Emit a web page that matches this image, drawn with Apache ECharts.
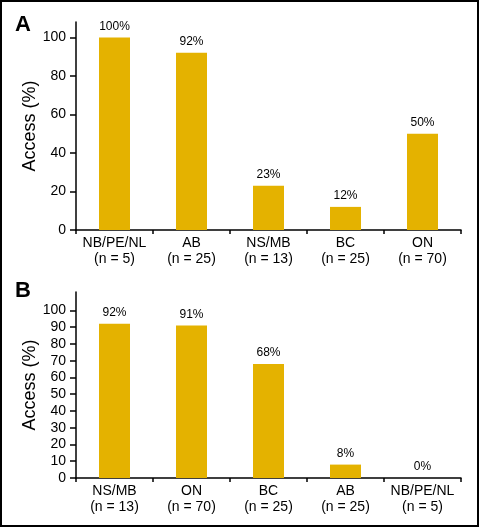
<!DOCTYPE html>
<html>
<head>
<meta charset="utf-8">
<script src="https://cdn.jsdelivr.net/npm/echarts@6/dist/echarts.min.js"></script>
<style>html,body{margin:0;padding:0;background:#fff}#c{width:480px;height:528px}</style>
</head>
<body>
<div id="c"></div>
<script>
// Panel A
const namesA = ['NB/PE/NL', 'AB', 'NS/MB', 'BC', 'ON'];
const nA = [5, 25, 13, 25, 70];
const valsA = [100, 92, 23, 12, 50];
const ticksA = [0, 20, 40, 60, 80, 100];
// Panel B
const namesB = ['NS/MB', 'ON', 'BC', 'AB', 'NB/PE/NL'];
const nB = [13, 70, 25, 25, 5];
const valsB = [92, 91, 68, 8, 0];
const ticksB = [0, 10, 20, 30, 40, 50, 60, 70, 80, 90, 100];

const FONT = '"Liberation Sans", Arial, Helvetica, sans-serif';
const BAR = '#E4B200';
const catsA = namesA.map((s, i) => s + '\n(n = ' + nA[i] + ')');
const catsB = namesB.map((s, i) => s + '\n(n = ' + nB[i] + ')');

function xAxis(idx, cats) {
  return {
    type: 'category', gridIndex: idx, data: cats,
    axisLine: { lineStyle: { color: '#000', width: 1.5 } },
    axisTick: { show: true, length: 4, lineStyle: { color: '#000', width: 1.5 } },
    axisLabel: { color: '#000', fontFamily: FONT, fontSize: 14, lineHeight: 16, margin: 5, interval: 0 }
  };
}
function yAxis(idx, max, ticks) {
  return {
    type: 'value', gridIndex: idx, min: 0, max: max,
    name: 'Access (%)', nameLocation: 'middle', nameGap: 37, nameMoveOverlap: false,
    nameTextStyle: { color: '#000', fontFamily: FONT, fontSize: 18 },
    splitLine: { show: false },
    axisLine: { show: true, lineStyle: { color: '#000', width: 1.5 } },
    axisTick: { show: true, length: 6, customValues: ticks, lineStyle: { color: '#000', width: 1.5 } },
    axisLabel: { color: '#000', fontFamily: FONT, fontSize: 14, margin: 10, customValues: ticks }
  };
}
function bars(idx, vals) {
  return {
    type: 'bar', xAxisIndex: idx, yAxisIndex: idx, data: vals, barWidth: 31,
    itemStyle: { color: BAR },
    label: { show: true, position: 'top', distance: 5, formatter: '{c}%', color: '#000', fontFamily: FONT, fontSize: 12 },
    animation: false
  };
}

const chart = echarts.init(document.getElementById('c'), null, { renderer: 'canvas' });
chart.setOption({
  animation: false,
  backgroundColor: '#fff',
  grid: [
    { left: 76, right: 19, top: 22, bottom: 298 },
    { left: 76, right: 19, top: 292, bottom: 50 }
  ],
  xAxis: [xAxis(0, catsA), xAxis(1, catsB)],
  yAxis: [yAxis(0, 108, ticksA), yAxis(1, 111, ticksB)],
  series: [bars(0, valsA), bars(1, valsB)],
  graphic: [
    { type: 'rect', shape: { x: 1, y: 1, width: 477, height: 525 }, style: { fill: 'none', stroke: '#000', lineWidth: 2 }, silent: true },
    { type: 'text', x: 15, y: 25, style: { text: 'A', font: 'bold 22px ' + FONT, fill: '#000', verticalAlign: 'middle' } },
    { type: 'text', x: 15, y: 291, style: { text: 'B', font: 'bold 22px ' + FONT, fill: '#000', verticalAlign: 'middle' } }
  ]
});
</script>
</body>
</html>
